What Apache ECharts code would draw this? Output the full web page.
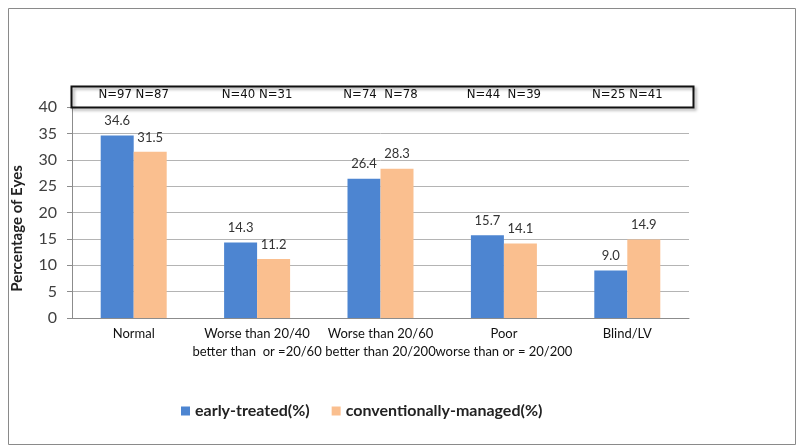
<!DOCTYPE html>
<html>
<head>
<meta charset="utf-8">
<script src="https://cdn.jsdelivr.net/npm/echarts@6/dist/echarts.min.js"></script>
<style>html,body{margin:0;padding:0;background:#fff}#c{width:800px;height:447px}</style>
</head>
<body>
<div id="c"></div>
<script>
var categories = ['Normal', 'Worse than 20/40\nbetter than  or =20/60', 'Worse than 20/60\nbetter than 20/200', 'Poor\nworse than or = 20/200', 'Blind/LV'];
var nLabels = ['N=97 N=87', 'N=40 N=31', 'N=74  N=78', 'N=44  N=39', 'N=25 N=41'];
var earlyTreated = [34.6, 14.3, 26.4, 15.7, 9.0];
var conventional = [31.5, 11.2, 28.3, 14.1, 14.9];
var yTicks = { min: 0, max: 40, interval: 5 };

var chart = echarts.init(document.getElementById('c'), null, { renderer: 'canvas' });
var labelStyle = {
  show: true, position: 'top', distance: 8,
  fontFamily: 'Lato', fontSize: 13, color: '#333',
  formatter: function (p) { return p.value.toFixed(1); }
};
chart.setOption({
  animation: false,
  backgroundColor: '#fff',
  grid: { left: 72, right: 111, top: 107, bottom: 129, containLabel: false },
  legend: {
    left: 176, top: 398,
    itemWidth: 9, itemHeight: 9, itemGap: 22,
    icon: 'rect',
    textStyle: { fontFamily: 'Lato', fontWeight: 'bold', fontSize: 16, color: '#222' },
    data: ['early-treated(%)', 'conventionally-managed(%)']
  },
  xAxis: [{
    type: 'category', data: categories, position: 'bottom',
    axisLine: { lineStyle: { color: '#8c8c8c' } },
    axisTick: { show: false },
    axisLabel: { margin: 7, fontFamily: 'Lato', fontSize: 13, color: '#111', lineHeight: 18, interval: 0 }
  }, {
    type: 'category', data: nLabels, position: 'top',
    axisLine: { show: false }, axisTick: { show: false },
    axisLabel: { margin: 6, fontFamily: 'DejaVu Sans Condensed, DejaVu Sans', fontSize: 13, color: '#111', interval: 0 }
  }],
  yAxis: {
    type: 'value', min: yTicks.min, max: yTicks.max, interval: yTicks.interval,
    name: 'Percentage of Eyes', nameLocation: 'middle', nameGap: 47, nameRotate: 90,
    nameTextStyle: { fontFamily: 'Lato', fontWeight: 'bold', fontSize: 15, color: '#222', padding: [0, 32, 0, 0] },
    axisLine: { show: true, lineStyle: { color: '#8c8c8c' } },
    axisTick: { show: true, length: 5, lineStyle: { color: '#8c8c8c' } },
    axisLabel: { margin: 15, fontFamily: 'Lato', fontSize: 16, color: '#404040' },
    splitLine: { lineStyle: { color: '#b4b4b4' } }
  },
  series: [{
    name: 'early-treated(%)', type: 'bar', data: earlyTreated,
    barWidth: 33, barGap: '0%',
    itemStyle: { color: '#4d85d1' },
    label: labelStyle
  }, {
    name: 'conventionally-managed(%)', type: 'bar', data: conventional,
    barWidth: 33, barGap: '0%',
    itemStyle: { color: '#fabf8f' },
    label: labelStyle
  }],
  graphic: [{
    type: 'rect', left: 6, top: 6, z: -1,
    shape: { width: 787, height: 436 },
    style: { fill: 'none', stroke: '#8a8a8a', lineWidth: 1 }
  }, {
    type: 'rect', left: 69, top: 84, z: 10,
    shape: { width: 622, height: 21 },
    style: { fill: 'none', stroke: '#111', lineWidth: 2, shadowBlur: 3, shadowOffsetX: 2, shadowOffsetY: 2, shadowColor: 'rgba(0,0,0,0.35)' }
  }]
});
</script>
</body>
</html>
